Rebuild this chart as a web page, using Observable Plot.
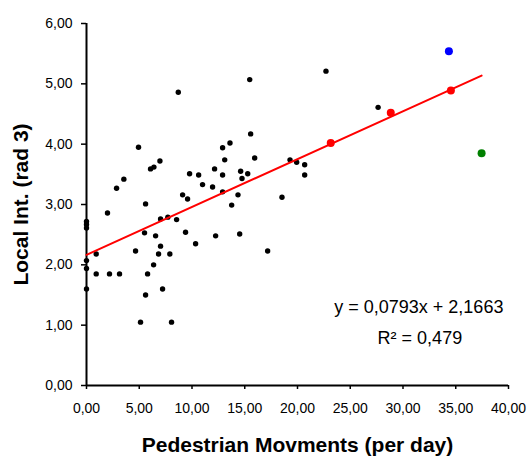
<!DOCTYPE html>
<html><head><meta charset="utf-8">
<script src="https://cdn.jsdelivr.net/npm/d3@7"></script>
<script src="https://cdn.jsdelivr.net/npm/@observablehq/plot@0.6"></script>
<style>body{margin:0;background:#fff}</style>
</head><body><div id="chart"></div>
<script>
// Black observations
const blackX = [0, 0, 0, 0, 0, 0, 0.92, 0.92, 1.99, 2.18, 2.85, 3.13, 3.54, 4.65, 4.93, 5.12, 5.50, 5.60, 5.60, 5.79,
  6.07, 6.39, 6.36, 6.55, 6.83, 6.96, 7.02, 7.02, 7.21, 7.71, 7.90, 8.06, 8.54, 8.70, 9.11, 9.39, 9.58, 9.77, 10.34, 10.63,
  11.00, 11.95, 12.14, 12.24, 12.90, 12.90, 12.90, 13.10, 13.60, 13.76, 14.36, 14.52, 14.61, 14.74, 15.28, 15.47, 15.56, 15.94,
  17.17, 18.53, 19.29, 19.92, 20.68, 20.68, 22.70, 27.64];
const blackY = [2.72, 2.67, 2.61, 2.07, 1.94, 1.60, 2.18, 1.85, 2.86, 1.85, 3.27, 1.85, 3.42, 2.23, 3.95, 1.05, 2.53, 3.01, 1.50, 1.85,
  3.59, 3.62, 2.00, 2.48, 2.18, 3.72, 2.76, 2.31, 1.60, 2.79, 2.18, 1.05, 2.75, 4.86, 3.16, 2.54, 3.09, 3.51, 2.35, 3.49,
  3.33, 3.29, 3.59, 2.48, 3.94, 3.49, 3.21, 3.74, 4.02, 2.99, 3.16, 2.51, 3.55, 3.43, 3.51, 5.07, 4.17, 3.77,
  2.23, 3.12, 3.74, 3.70, 3.66, 3.49, 5.21, 4.61];
// Highlighted observations
const redX = [23.15, 28.84, 34.54];
const redY = [4.02, 4.52, 4.89];
const blueX = [34.35];
const blueY = [5.54];
const greenX = [37.45];
const greenY = [3.85];
// Linear trendline (from chart equation)
const slope = 0.0793;
const intercept = 2.1663;
const equationText = "y = 0,0793x + 2,1663";
const r2Text = "R² = 0,479";
// Axes
const xTicks = [0, 5, 10, 15, 20, 25, 30, 35, 40];
const yTicks = [0, 1, 2, 3, 4, 5, 6];
const xTitle = "Pedestrian Movments (per day)";
const yTitle = "Local Int. (rad 3)";

const fmt = d => d.toFixed(2).replace(".", ",");
const toPts = (xs, ys) => xs.map((x, i) => ({x, y: ys[i]}));
const black = toPts(blackX, blackY);
const red = toPts(redX, redY);
const blue = toPts(blueX, blueY);
const green = toPts(greenX, greenY);
const allX = [...blackX, ...redX, ...blueX, ...greenX];
const trend = [d3.min(allX), d3.max(allX)].map(x => ({x, y: slope * x + intercept}));

const chart = Plot.plot({
  width: 532, height: 456,
  marginLeft: 86, marginRight: 24, marginTop: 23, marginBottom: 71,
  style: {fontFamily: "'Liberation Sans', Arial, sans-serif", background: "#fff", color: "#000", overflow: "visible"},
  x: {domain: [0, 40]},
  y: {domain: [0, 6]},
  marks: [
    Plot.axisX({ticks: xTicks, tickFormat: fmt, tickSize: 4, tickPadding: 14, fontSize: 14, strokeWidth: 1.5, label: null}),
    Plot.axisY({ticks: yTicks, tickFormat: fmt, tickSize: 5, tickPadding: 9, fontSize: 14, strokeWidth: 1.5, label: null}),
    Plot.ruleX([0], {stroke: "#000", strokeWidth: 2}),
    Plot.ruleY([0], {stroke: "#000", strokeWidth: 2}),
    Plot.dot(black, {x: "x", y: "y", r: 2.7, fill: "#000", stroke: "none"}),
    Plot.line(trend, {x: "x", y: "y", stroke: "#ff0000", strokeWidth: 2}),
    Plot.dot(red, {x: "x", y: "y", r: 4, fill: "#ff0000", stroke: "none"}),
    Plot.dot(blue, {x: "x", y: "y", r: 4, fill: "#0000ff", stroke: "none"}),
    Plot.dot(green, {x: "x", y: "y", r: 4, fill: "#008000", stroke: "none"}),
    Plot.text([equationText], {x: 31.5, y: 1.29, text: d => d, fontSize: 18, lineAnchor: "middle", textAnchor: "middle", fill: "#000"}),
    Plot.text([r2Text], {x: 31.6, y: 0.79, text: d => d, fontSize: 18, lineAnchor: "middle", textAnchor: "middle", fill: "#000"}),
    Plot.text([xTitle], {frameAnchor: "bottom", dy: 66, lineAnchor: "bottom", textAnchor: "middle", text: d => d, fontSize: 21, fontWeight: "bold", fill: "#000"}),
    Plot.text([yTitle], {frameAnchor: "left", dx: -59, rotate: -90, lineAnchor: "bottom", textAnchor: "middle", text: d => d, fontSize: 21, fontWeight: "bold", fill: "#000"})
  ]
});
document.getElementById("chart").append(chart);
</script>
</body></html>
